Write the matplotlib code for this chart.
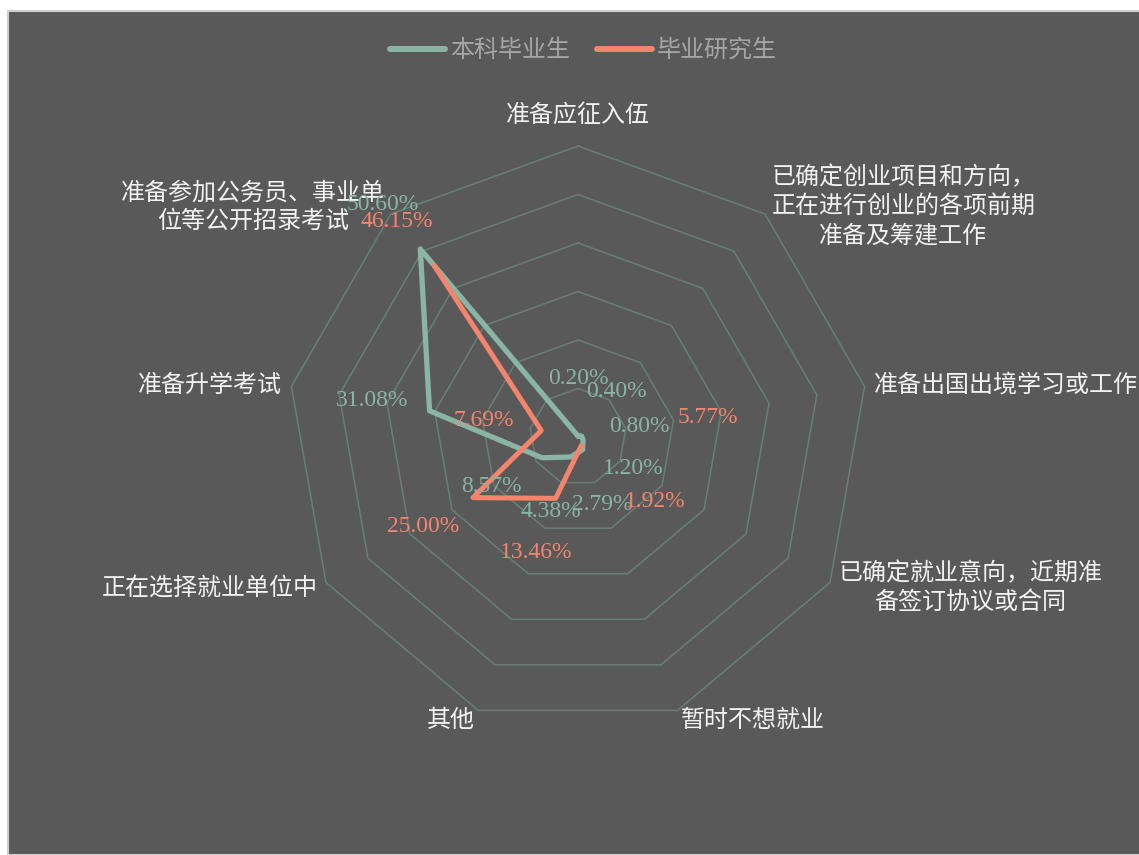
import numpy as np
import matplotlib
matplotlib.use('Agg')
import matplotlib.pyplot as plt
from matplotlib.patches import Rectangle
from matplotlib.lines import Line2D

# ---------------- data ----------------
categories = [
    '准备应征入伍',
    '已确定创业项目和方向，\n正在进行创业的各项前期\n准备及筹建工作',
    '准备出国出境学习或工作',
    '已确定就业意向，近期准\n备签订协议或合同',
    '暂时不想就业',
    '其他',
    '正在选择就业单位中',
    '准备升学考试',
    '准备参加公务员、事业单\n位等公开招录考试',
]
undergrad = [0.20, 0.40, 0.80, 1.20, 2.79, 4.38, 8.57, 31.08, 50.60]
graduate = [np.nan, np.nan, 5.77, np.nan, 1.92, 13.46, 25.00, 7.69, 46.15]
series_names = ['本科毕业生', '毕业研究生']
r_levels = [10, 20, 30, 40, 50, 60]

# ---------------- style ----------------
BG = '#595959'
GRID = '#687f76'
GREEN = '#8ab4a3'
RED = '#f5846c'
LABEL_C = '#f2f2f2'
LEGEND_C = '#a6a6a6'
CJK = ['Noto Sans CJK SC', 'DejaVu Sans']
NUM = ['Liberation Serif', 'DejaVu Serif']
FS = 17.3

W, H = 1139, 855
fig = plt.figure(figsize=(W / 100, H / 100), dpi=100, facecolor='white')
fig.patches.append(Rectangle((7.5 / W, 0), 1, 1 - 11.5 / H, transform=fig.transFigure,
                             facecolor=BG, edgecolor='#cfcfcf', linewidth=1.5, zorder=-10))

cx, cy, R = 578, 437, 291
ax = fig.add_axes([(cx - R) / W, (H - cy - R) / H, 2 * R / W, 2 * R / H], projection='polar')
ax.set_facecolor('none')
ax.set_theta_offset(np.pi / 2)
ax.set_theta_direction(-1)
ax.set_ylim(0, r_levels[-1])
ax.set_xticks([])
ax.set_yticks([])
ax.grid(False)
ax.spines['polar'].set_visible(False)

n = len(categories)
angles = np.arange(n) * 2 * np.pi / n
closed = np.append(angles, angles[0])

for lv in r_levels:
    ax.plot(closed, [lv] * (n + 1), color=GRID, lw=1.1, zorder=1, clip_on=False)

u = np.append(undergrad, undergrad[0])
g = np.append(graduate, graduate[0])
ax.plot(closed, u, color=GREEN, lw=3.8, solid_joinstyle='round', solid_capstyle='round', zorder=3, clip_on=False)
ax.plot(closed, g, color=RED, lw=3.6, solid_joinstyle='round', solid_capstyle='round', zorder=4, clip_on=False)

# category labels
for i, (a, lab) in enumerate(zip(angles, categories)):
    s = np.sin(a)
    if abs(s) < 1e-6:
        ax.text(a, 66.5, lab, ha='center', va='center', color=LABEL_C, fontsize=FS,
                family=CJK, multialignment='center')
    else:
        ax.text(a, 62, lab, ha='left' if s > 0 else 'right', va='center', color=LABEL_C,
                fontsize=FS, family=CJK, multialignment='center', linespacing=1.15)

# data labels
special = {(1, 2): (102, 15), (1, 4): (74, -56)}
for si, (vals, col) in enumerate([(undergrad, GREEN), (graduate, RED)]):
    for i, (a, v) in enumerate(zip(angles, vals)):
        if np.isnan(v):
            continue
        off = special.get((si, i), (58 * np.sin(a), 58 * np.cos(a)))
        ax.annotate(f'{v:.2f}%', xy=(a, v), xytext=off, textcoords='offset pixels',
                    ha='center', va='center', color=col, fontsize=17, family=NUM,
                    zorder=5, annotation_clip=False)

handles = [Line2D([0], [0], color=GREEN, lw=4.3, solid_capstyle='round'),
           Line2D([0], [0], color=RED, lw=4.3, solid_capstyle='round')]
leg = fig.legend(handles, series_names, loc='center', bbox_to_anchor=(583.5 / W, 1 - 50 / H),
                 ncol=2, frameon=False, prop={'family': CJK, 'size': FS},
                 handlelength=2.3, handletextpad=0.2, columnspacing=1.1)
for t in leg.get_texts():
    t.set_color(LEGEND_C)

fig.savefig('out.png', dpi=100, facecolor=fig.get_facecolor())
